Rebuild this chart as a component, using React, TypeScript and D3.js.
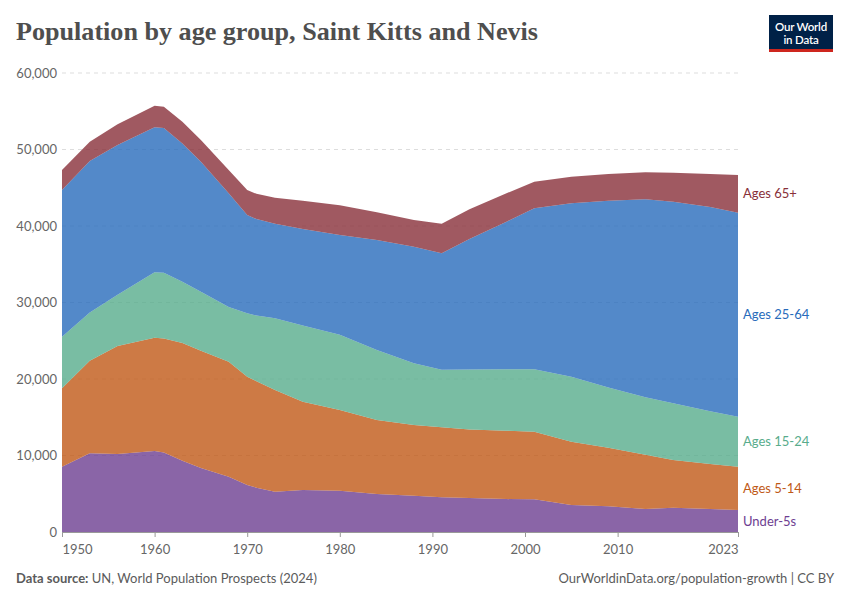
import React, { useEffect, useRef } from 'react'
import * as d3 from 'd3'

// values (persons), OWID population by age group
const years = [1950, 1953, 1956, 1960, 1961, 1963, 1965, 1968, 1970, 1971, 1973, 1976, 1980, 1984, 1988, 1991, 1994, 1998, 2001, 2005, 2009, 2013, 2016, 2020, 2023]
const under5 = [8540, 10290, 10200, 10600, 10400, 9300, 8360, 7230, 6140, 5800, 5270, 5490, 5400, 4970, 4750, 4530, 4450, 4300, 4270, 3530, 3350, 3010, 3180, 3000, 2880]
const ages5to14 = [10240, 12110, 14100, 14800, 14900, 15400, 15340, 15030, 14160, 13900, 13290, 11540, 10550, 9670, 9250, 9150, 8950, 8940, 8840, 8270, 7650, 7090, 6230, 5900, 5660]
const ages15to24 = [6750, 6300, 6700, 8550, 8600, 8000, 7700, 7140, 8290, 8600, 9370, 9970, 9850, 9150, 8050, 7520, 7850, 8030, 8160, 8500, 7900, 7500, 7410, 6900, 6530]
const ages25to64 = [19170, 19800, 19600, 18950, 18900, 18100, 17000, 14870, 12850, 12600, 12370, 12600, 13020, 14380, 15240, 15250, 17050, 19290, 21040, 22660, 24400, 25890, 26360, 26700, 26670]
const ages65plus = [2620, 2500, 2700, 2830, 2800, 2840, 2830, 3050, 3260, 3300, 3400, 3700, 3880, 3630, 3510, 3850, 3900, 3710, 3480, 3480, 3500, 3530, 3790, 4300, 4930]

const seriesNames = ['Under-5s', 'Ages 5-14', 'Ages 15-24', 'Ages 25-64', 'Ages 65+']
const seriesValues = [under5, ages5to14, ages15to24, ages25to64, ages65plus]
const seriesColors = ['#6D3E91', '#C05917', '#58AC8C', '#286BBB', '#883039']

const yTicks = [0, 10000, 20000, 30000, 40000, 50000, 60000]
const xTicks = [1950, 1960, 1970, 1980, 1990, 2000, 2010, 2023]

const W = 850
const H = 600
const margin = { left: 62, right: 112, top: 73, bottom: 68 }

const App = () => {
    const ref = useRef<SVGSVGElement>(null)

    useEffect(() => {
        const svg = d3.select(ref.current)
        svg.selectAll('*').remove()

        const rows = years.map((yr, i) => {
            const r: any = { year: yr }
            seriesNames.forEach((n, j) => (r[n] = seriesValues[j][i]))
            return r
        })

        const x = d3.scaleLinear().domain([1950, 2023]).range([margin.left, W - margin.right])
        const y = d3.scaleLinear().domain([0, 60000]).range([H - margin.bottom, margin.top])

        const stack = d3.stack().keys(seriesNames)(rows)

        // Title
        svg.append('text')
            .attr('x', 16)
            .attr('y', 40)
            .attr('font-family', 'Liberation Serif, DejaVu Serif, serif')
            .attr('font-size', 26)
            .attr('font-weight', 600)
            .attr('fill', '#4e4e4e')
            .attr('textLength', 522)
            .attr('lengthAdjust', 'spacingAndGlyphs')
            .text('Population by age group, Saint Kitts and Nevis')

        // Logo
        const logo = svg.append('g').attr('transform', 'translate(769,15)')
        logo.append('rect').attr('width', 64).attr('height', 37).attr('fill', '#002147')
        logo.append('rect').attr('y', 34).attr('width', 64).attr('height', 3).attr('fill', '#ce261e')
        logo.selectAll('text.l')
            .data(['Our World', 'in Data'])
            .join('text')
            .attr('x', 32)
            .attr('y', (d, i) => 15.5 + i * 13)
            .attr('text-anchor', 'middle')
            .attr('font-family', 'Lato, sans-serif')
            .attr('font-size', 11.5)
            .attr('font-weight', 600)
            .attr('letter-spacing', '-0.2')
            .attr('fill', '#fff')
            .text(d => d)

        // Grid
        svg.append('g')
            .selectAll('line')
            .data(yTicks.filter(t => t > 0))
            .join('line')
            .attr('x1', margin.left)
            .attr('x2', W - margin.right)
            .attr('y1', d => y(d))
            .attr('y2', d => y(d))
            .attr('stroke', '#ddd')
            .attr('stroke-dasharray', '4,4')

        // Areas
        const area = d3
            .area<any>()
            .x(d => x(d.data.year))
            .y0(d => y(d[0]))
            .y1(d => y(d[1]))

        svg.append('g')
            .selectAll('path')
            .data(stack)
            .join('path')
            .attr('d', area)
            .attr('fill', (d, i) => seriesColors[i])
            .attr('fill-opacity', 0.8)

        // Y labels
        svg.append('g')
            .selectAll('text')
            .data(yTicks)
            .join('text')
            .attr('x', margin.left - 5)
            .attr('y', d => y(d))
            .attr('dy', '0.35em')
            .attr('text-anchor', 'end')
            .attr('font-family', 'Lato, sans-serif')
            .attr('font-size', 13)
            .attr('fill', '#666')
            .text(d => d3.format(',')(d))

        // X axis
        const xAxis = d3.axisBottom(x).tickValues(xTicks).tickFormat(d3.format('d')).tickSize(5)
        const gx = svg.append('g').attr('transform', `translate(0,${H - margin.bottom})`).call(xAxis)
        gx.select('.domain').attr('stroke', '#999')
        gx.selectAll('.tick line').attr('stroke', '#999')
        gx.selectAll('.tick text')
            .attr('font-family', 'Lato, sans-serif')
            .attr('font-size', 13)
            .attr('fill', '#666')
            .attr('dy', '1.1em')
            .attr('text-anchor', (d: any) => (d === 1950 ? 'start' : d === 2023 ? 'end' : 'middle'))

        // End labels
        const last = years.length - 1
        svg.append('g')
            .selectAll('text')
            .data(stack)
            .join('text')
            .attr('x', W - margin.right + 5)
            .attr('y', d => y((d[last][0] + d[last][1]) / 2))
            .attr('dy', '0.35em')
            .attr('font-family', 'Lato, sans-serif')
            .attr('font-size', 13)
            .attr('fill', (d, i) => seriesColors[i])
            .text((d, i) => seriesNames[i])

        // Footer
        const foot = svg.append('text')
            .attr('x', 16)
            .attr('y', 583)
            .attr('font-family', 'Lato, sans-serif')
            .attr('font-size', 13)
            .attr('fill', '#5b5b5b')
        foot.append('tspan').attr('font-weight', 700).text('Data source:')
        foot.append('tspan').text(' UN, World Population Prospects (2024)')

        svg.append('text')
            .attr('x', 834)
            .attr('y', 583)
            .attr('text-anchor', 'end')
            .attr('font-family', 'Lato, sans-serif')
            .attr('font-size', 13)
            .attr('fill', '#5b5b5b')
            .text('OurWorldinData.org/population-growth | CC BY')
    }, [])

    return (
        <svg
            ref={ref}
            width={W}
            height={H}
            style={{ position: 'absolute', left: 0, top: 0, background: '#fff' }}
        />
    )
}

export default App
